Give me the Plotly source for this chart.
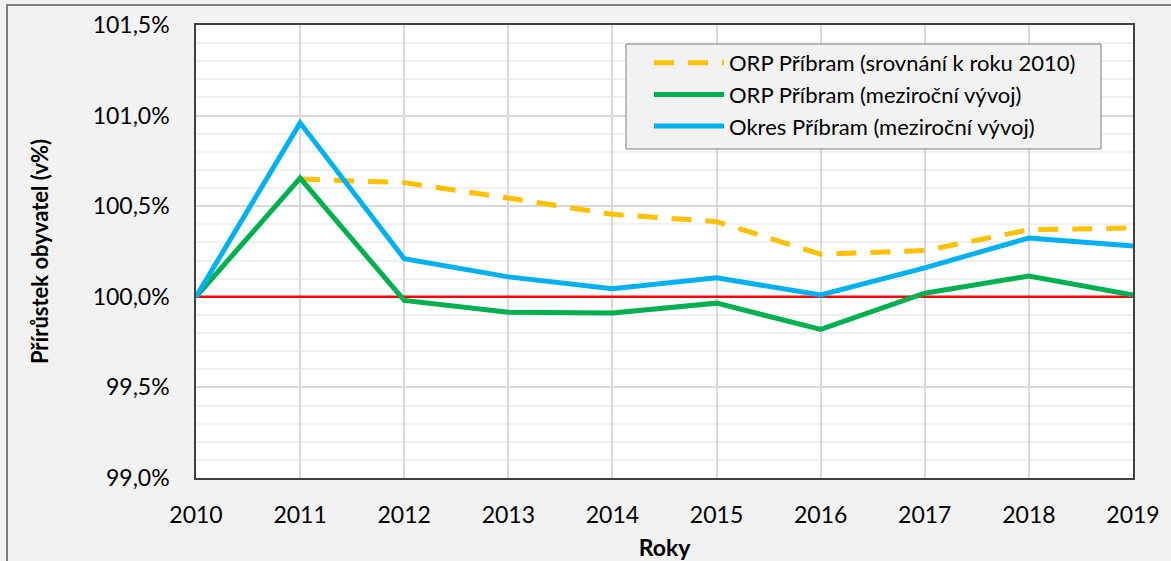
import plotly.graph_objects as go

years = [2010, 2011, 2012, 2013, 2014, 2015, 2016, 2017, 2018, 2019]
orp_srovnani = [None, 100.65, 100.63, 100.545, 100.455, 100.415, 100.235, 100.255, 100.37, 100.38]
orp_mezirocni = [100.0, 100.655, 99.98, 99.915, 99.91, 99.965, 99.82, 100.02, 100.115, 100.01]
okres_mezirocni = [100.0, 100.96, 100.21, 100.11, 100.045, 100.105, 100.01, 100.16, 100.325, 100.28]
baseline = [100.0] * len(years)

names = ["ORP Příbram (srovnání k roku 2010)",
         "ORP Příbram (meziroční vývoj)",
         "Okres Příbram (meziroční vývoj)"]

FONT = "Lato, 'Open Sans', sans-serif"

fig = go.Figure()
fig.add_trace(go.Scatter(x=years, y=baseline, mode="lines", showlegend=False,
                         line=dict(color="#ff0000", width=2.5)))
fig.add_trace(go.Scatter(x=years, y=orp_srovnani, mode="lines", name=names[0], legendgroup="a",
                         line=dict(color="#ffc000", width=5, dash="20px,14px")))
fig.add_trace(go.Scatter(x=years, y=orp_mezirocni, mode="lines", name=names[1], legendgroup="b",
                         line=dict(color="#00b050", width=5)))
fig.add_trace(go.Scatter(x=years, y=okres_mezirocni, mode="lines", name=names[2], legendgroup="c",
                         line=dict(color="#00b0f0", width=5)))

L, R, T, B = 196, 38, 25, 83
W, H = 1171, 561
pw = W - L - R
ph = H - T - B


def px_x(p):
    return (p - L) / pw


def px_y(p):
    return (H - B - p) / ph


fig.update_layout(
    template="none",
    width=W, height=H,
    margin=dict(l=L, r=R, t=T, b=B),
    paper_bgcolor="#f2f2f2",
    plot_bgcolor="#ffffff",
    font=dict(family=FONT, size=22, color="#000000"),
    separators=", ",
    showlegend=True,
    legend=dict(x=px_x(649), y=px_y(42), xanchor="left", yanchor="top",
                bgcolor="rgba(0,0,0,0)", borderwidth=0,
                font=dict(size=22), itemwidth=70, tracegroupgap=5,
                traceorder="normal"),
    xaxis=dict(range=[2010, 2019], tickmode="linear", dtick=1, tick0=2010,
               showgrid=True, gridcolor="#d9d9d9", gridwidth=1.5,
               showline=True, linecolor="#404040", linewidth=1.5, mirror=True,
               ticks="outside", ticklen=0, ticklabelstandoff=16,
               tickfont=dict(size=23), automargin=False,
               title=dict(text="<b>Roky</b>", font=dict(size=23), standoff=14),
               zeroline=False),
    yaxis=dict(range=[99.0, 101.5], tickmode="linear", dtick=0.5, tick0=99.0,
               tickformat=".1f", ticksuffix="%",
               showgrid=True, gridcolor="#d9d9d9", gridwidth=1.5,
               minor=dict(dtick=0.1, showgrid=True, gridcolor="#efefef", gridwidth=1.5),
               showline=True, linecolor="#404040", linewidth=1.5, mirror=True,
               ticks="outside", ticklen=0, ticklabelstandoff=20,
               tickfont=dict(size=23), automargin=False,
               title=dict(text="<b>Přírůstek obyvatel (v%)</b>", font=dict(size=22), standoff=38),
               zeroline=False),
    shapes=[
        dict(type="rect", xref="paper", yref="paper",
             x0=px_x(7), x1=1.2, y0=-0.4, y1=px_y(5),
             line=dict(color="#595959", width=1.5), fillcolor="rgba(0,0,0,0)", layer="below"),
        dict(type="rect", xref="paper", yref="paper",
             x0=px_x(626), x1=px_x(1101), y0=px_y(149), y1=px_y(44),
             line=dict(color="#7f7f7f", width=1), fillcolor="#f2f2f2", layer="above"),
    ],
)

fig.write_html("out.html", config={"displayModeBar": False},
               post_script="document.body.style.margin='0';document.body.style.background='#f2f2f2';")
